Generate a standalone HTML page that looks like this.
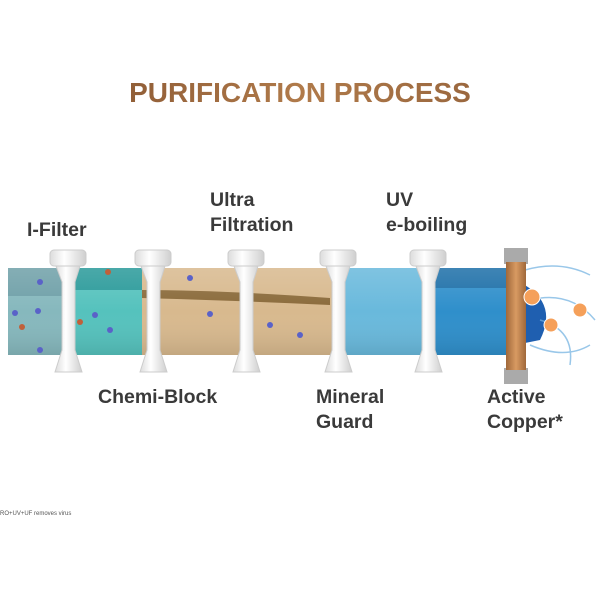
<!DOCTYPE html>
<html><head><style>
body{margin:0;width:600px;height:600px;background:#fff;position:relative;overflow:hidden;font-family:"Liberation Sans",sans-serif}
.t{position:absolute;font-weight:bold;color:#3a3a3a;font-size:19.5px;line-height:25px}
.title{position:absolute;left:0;width:600px;top:77px;text-align:center;font-size:28px;font-weight:bold;letter-spacing:0;background:linear-gradient(90deg,#7a4a2a,#b07a4a,#8a5a36);-webkit-background-clip:text;color:transparent}
</style></head><body>
<div class="title">PURIFICATION PROCESS</div>
<svg width="600" height="600" style="position:absolute;left:0;top:0">
<defs>
<linearGradient id="shade" x1="0" y1="0" x2="0" y2="1"><stop offset="0" stop-color="#fff" stop-opacity="0.15"/><stop offset="0.5" stop-color="#fff" stop-opacity="0"/><stop offset="1" stop-color="#000" stop-opacity="0.1"/></linearGradient>
<linearGradient id="cu" x1="0" y1="0" x2="1" y2="0"><stop offset="0" stop-color="#a0683a"/><stop offset="0.5" stop-color="#d89a62"/><stop offset="1" stop-color="#a0683a"/></linearGradient>
<linearGradient id="h" x1="0" y1="0" x2="1" y2="0"><stop offset="0" stop-color="#dcdcdc"/><stop offset="0.4" stop-color="#fff"/><stop offset="1" stop-color="#cfcfcf"/></linearGradient>
</defs>
<rect x="8" y="268" width="62" height="87" fill="#86b8bd"/>
<rect x="8" y="268" width="62" height="28" fill="#6fa0a8"/>
<rect x="70" y="268" width="72" height="87" fill="#55c2bd"/>
<rect x="70" y="268" width="72" height="22" fill="#2a9a9a"/>
<rect x="142" y="268" width="190" height="87" fill="#d8b98e"/>
<path d="M142 290 Q220 290 330 298 L330 305 Q220 300 142 298Z" fill="#8a6a3a"/>
<rect x="332" y="268" width="100" height="87" fill="#69b9dc"/>
<rect x="432" y="268" width="76" height="87" fill="#2f8fcb"/>
<rect x="432" y="268" width="76" height="20" fill="#1d6fa8"/>
<rect x="8" y="268" width="500" height="87" fill="url(#shade)"/>
<g fill="#5a62c8"><circle cx="40" cy="282" r="3"/><circle cx="15" cy="313" r="3"/><circle cx="38" cy="311" r="3"/><circle cx="40" cy="350" r="3"/><circle cx="95" cy="315" r="3"/><circle cx="110" cy="330" r="3"/><circle cx="190" cy="278" r="3"/><circle cx="210" cy="314" r="3"/><circle cx="270" cy="325" r="3"/><circle cx="300" cy="335" r="3"/></g>
<g fill="#c0603a"><circle cx="22" cy="327" r="3"/><circle cx="80" cy="322" r="3"/><circle cx="108" cy="272" r="3"/></g>
<g id="f">
<rect x="50" y="250" width="36" height="16" rx="4" fill="url(#h)" stroke="#ccc"/>
<path d="M56 266 L80 266 L75 282 L75 350 L82 372 L55 372 L62 350 L62 282Z" fill="url(#h)" stroke="#ccc"/>
</g>
<use href="#f" x="85"/><use href="#f" x="178"/><use href="#f" x="270"/><use href="#f" x="360"/>
<path d="M515 280 Q560 300 540 340 L515 345Z" fill="#1f5fb0"/>
<g fill="none" stroke="#6fb0e0" stroke-width="1.5" opacity="0.7">
<path d="M525 270 Q560 260 590 275"/><path d="M530 300 Q570 290 595 320"/><path d="M530 345 Q565 360 590 345"/><path d="M540 320 Q575 330 570 365"/></g>
<rect x="504" y="248" width="24" height="16" fill="#aaa"/>
<rect x="504" y="368" width="24" height="16" fill="#aaa"/>
<rect x="506" y="262" width="20" height="108" fill="url(#cu)"/>
<g fill="#f5a05a" stroke="#fff"><circle cx="532" cy="297" r="8"/><circle cx="580" cy="310" r="7"/><circle cx="551" cy="325" r="7"/></g>
</svg>
<div class="t" style="left:27px;top:218px">I-Filter</div>
<div class="t" style="left:210px;top:188px">Ultra<br>Filtration</div>
<div class="t" style="left:386px;top:188px">UV<br>e-boiling</div>
<div class="t" style="left:98px;top:385px">Chemi-Block</div>
<div class="t" style="left:316px;top:385px">Mineral<br>Guard</div>
<div class="t" style="left:487px;top:385px">Active<br>Copper*</div>
<div style="position:absolute;left:0;top:511px;font-size:6px;color:#555">RO+UV+UF removes virus</div>
</body></html>
